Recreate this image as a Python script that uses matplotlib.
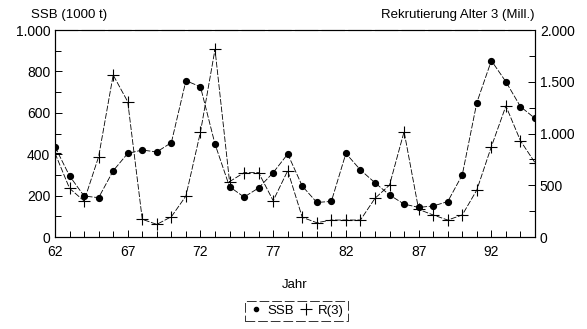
import matplotlib
matplotlib.use("Agg")
import matplotlib.pyplot as plt
from matplotlib.ticker import MultipleLocator, FuncFormatter
from matplotlib.lines import Line2D

plt.rcParams['font.family'] = ['Liberation Sans', 'DejaVu Sans']
plt.rcParams['font.size'] = 10

# Daten
jahre = list(range(62, 96))
ssb = [436, 295, 198, 190, 320, 404, 420, 411, 456, 755,
       726, 449, 243, 193, 237, 311, 401, 246, 167, 172,
       404, 324, 262, 203, 159, 143, 150, 171, 300, 649,
       852, 750, 630, 573]
rekr = [810, 470, 348, 776, 1565, 1307, 171, 122, 196, 396,
        1014, 1813, 535, 622, 622, 351, 641, 190, 138, 164,
        164, 164, 374, 502, 1018, 267, 213, 164, 213, 454,
        873, 1266, 930, 718]
xticks = [62, 67, 72, 77, 82, 87, 92]


def tausend(v, pos):
    v = int(round(v))
    if v >= 1000:
        return '%d.%03d' % (v // 1000, v % 1000)
    return str(v)


fig = plt.figure(figsize=(5.87, 3.29), dpi=100)
ax = fig.add_axes([0.0937, 0.2796, 0.8177, 0.6292])
ax2 = ax.twinx()

ax.plot(jahre, ssb, color='black', lw=0.6, ls=(0, (7, 2)),
        marker='o', ms=4.2, mfc='black', mec='black')
ax2.plot(jahre, rekr, color='black', lw=0.6, ls=(0, (7, 2)),
         marker='+', ms=8, mew=0.8)

ax.set_xlim(62, 95)
ax.set_ylim(0, 1000)
ax2.set_ylim(0, 2000)

ax.set_xticks(xticks)
ax.xaxis.set_minor_locator(MultipleLocator(1))
ax.yaxis.set_major_locator(MultipleLocator(200))
ax.yaxis.set_minor_locator(MultipleLocator(100))
ax2.yaxis.set_major_locator(MultipleLocator(500))
ax2.yaxis.set_minor_locator(MultipleLocator(250))
ax.yaxis.set_major_formatter(FuncFormatter(tausend))
ax2.yaxis.set_major_formatter(FuncFormatter(tausend))

for a in (ax, ax2):
    a.tick_params(which='both', direction='in', width=0.7, labelsize=10)
    a.tick_params(which='major', length=5)
    a.tick_params(which='minor', length=4)
    for s in a.spines.values():
        s.set_linewidth(0.8)
ax.tick_params(axis='x', pad=6)
ax.spines['top'].set_linestyle((0, (20, 4)))

ax.set_xlabel('Jahr', fontsize=9.5, labelpad=14)
fig.text(0.052, 0.935, 'SSB (1000 t)', fontsize=9.5, ha='left', va='bottom')
fig.text(0.911, 0.935, 'Rekrutierung Alter 3 (Mill.)', fontsize=9.5,
         ha='right', va='bottom')

handles = [Line2D([], [], ls='none', marker='.', color='black', ms=6),
           Line2D([], [], ls='none', marker='+', color='black', ms=8, mew=0.8)]
leg = fig.legend(handles, ['SSB', 'R(3)'], ncol=2, loc='center',
                 bbox_to_anchor=(0.505, 0.055), frameon=True, fancybox=False,
                 fontsize=9.5, handlelength=1.0, handletextpad=0.4,
                 columnspacing=0.4, borderpad=0.3)
leg.get_frame().set_edgecolor('black')
leg.get_frame().set_linewidth(0.7)
leg.get_frame().set_linestyle((0, (10, 3)))

fig.savefig('out.png', dpi=100)
